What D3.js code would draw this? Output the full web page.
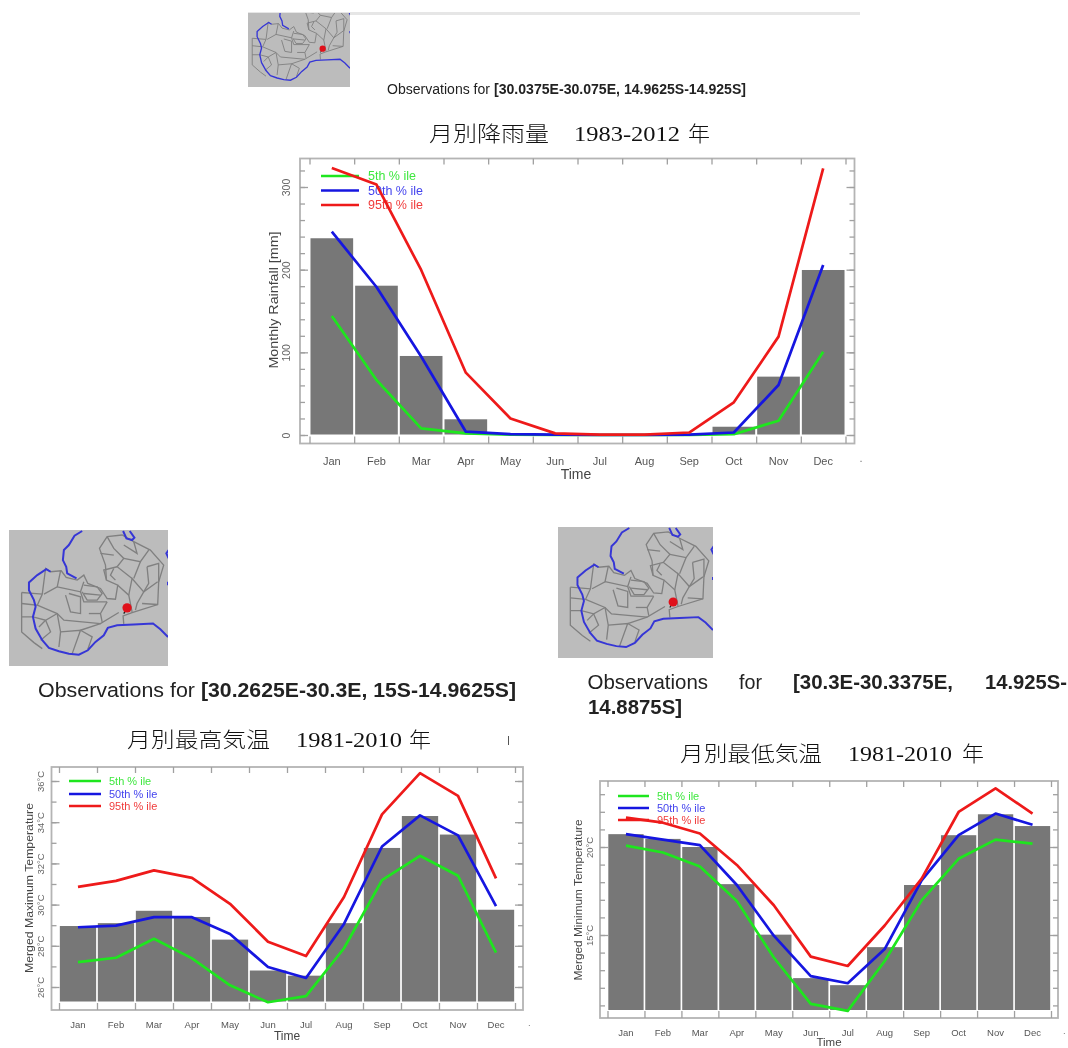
<!DOCTYPE html>
<html><head><meta charset="utf-8">
<script src="https://cdn.jsdelivr.net/npm/d3@7/dist/d3.min.js"></script>
<style>
html,body{margin:0;padding:0;background:#fff;overflow:hidden}
#c{display:block;filter:blur(0.6px)}
text{font-family:"Liberation Sans",Arial,sans-serif}
</style></head><body>
<svg id="c" width="1068" height="1048"></svg>
<script>
const months = ["Jan","Feb","Mar","Apr","May","Jun","Jul","Aug","Sep","Oct","Nov","Dec"];
const legendLabels = ["5th % ile","50th % ile","95th % ile"];

const rainBars = [238,180.6,95.6,19,0,0,0,0,0,10,70.6,199.6];
const rainP5   = [144,66.5,8,2,0.3,0,0,0,0,1,17.3,100.8];
const rainP50  = [246,179,95,4,1,0.5,0,0,0.5,3,60.5,205.6];
const rainP95  = [323,303,199.6,75.4,20,2,0.5,0.5,3,39.5,119,322.6];

const maxBars = [28.96,29.1,29.7,29.4,28.3,26.8,26.55,29.1,32.75,34.3,33.4,29.75];
const maxP5   = [27.21,27.42,28.34,27.39,26.08,25.26,25.56,27.88,31.19,32.37,31.4,27.67];
const maxP50  = [28.9,28.98,29.39,29.39,28.57,26.97,26.44,29.06,32.82,34.33,33.36,29.93];
const maxP95  = [30.86,31.15,31.66,31.3,30.04,28.2,27.5,30.37,34.38,36.38,35.28,31.27];

const minBars = [20.73,20.46,20,17.89,15.02,12.55,12.15,14.31,17.84,20.67,21.86,21.19];
const minP5   = [20.08,19.69,18.89,16.93,13.72,11.09,10.69,13.52,16.97,19.33,20.42,20.19];
const minP50  = [20.73,20.42,20.11,17.84,14.96,12.66,12.26,14.2,18.1,20.67,21.9,21.26];
const minP95  = [21.67,21.38,20.77,18.98,16.69,13.77,13.24,15.54,18.2,21.99,23.33,21.9];

const rainMajor = [0,100,200,300];
const rainMinor = [0,20,40,60,80,100,120,140,160,180,200,220,240,260,280,300,320];
const maxMajor = [26,28,30,32,34,36];
const maxMinor = [26,27,28,29,30,31,32,33,34,35,36];
const minMajor = [15,20];
const minMinor = [11,12,13,14,15,16,17,18,19,20,21,22,23];

const lineColors = ["#1ee61e","#1616e0","#ee1a1a"];
const legendText = ["#3fe83f","#4444ee","#f03c3c"];

const mapRivers = [
 [[245,18],[222,32],[205,60],[190,75],[187,105],[197,125],[200,145],[228,160]],
 [[150,140],[137,132],[110,150],[85,172],[85,195],[100,225],[105,245],[97,275],[105,310],[125,345],[145,368],[175,378],[205,385],[235,388],[262,375],[285,350],[310,330],[322,308],[350,300],[400,298],[458,295],[480,312],[503,335]],
 [[368,18],[378,40],[395,45],[402,38],[388,18]],
 [[505,75],[498,85],[505,100]],
 [[503,170],[503,180]]
];
const mapBorders = [
 [[63,202],[63,320],[100,352],[125,370]],
 [[63,202],[125,207],[135,130],[150,140],[182,137],[197,157],[230,165],[250,150],[262,175],[300,190],[320,220],[345,222],[352,180],[318,165],[315,120],[297,70],[320,35],[365,30],[400,50],[450,75],[490,120],[475,170],[472,238],[395,262],[368,272],[370,296]],
 [[125,207],[110,240],[63,235]],[[110,240],[170,265],[190,285],[300,295],[355,262]],
 [[63,275],[97,275],[135,285],[170,265]],[[135,285],[150,320],[120,345]],[[135,285],[115,305]],
 [[180,137],[170,185],[130,207]],[[170,185],[240,200],[250,170]],[[195,210],[210,260],[240,265],[240,215],[205,205]],
 [[240,200],[250,230],[320,230]],[[250,180],[290,185],[305,205],[290,225],[260,225],[245,200]],[[250,205],[300,210]],
 [[170,265],[180,320],[175,365]],[[180,320],[240,315],[215,385]],[[240,315],[300,295]],[[240,315],[275,335],[262,372]],
 [[320,230],[300,265],[305,290]],[[265,265],[300,265]],
 [[352,180],[385,210],[395,260]],[[385,210],[395,160],[430,200],[472,170]],[[430,200],[410,235],[405,255]],[[425,235],[472,238]],
 [[395,160],[350,125],[370,100],[340,70],[320,35]],[[350,125],[310,135],[318,165]],[[370,100],[420,110],[445,75]],[[420,110],[400,160]],
 [[440,125],[475,115],[475,170]],[[440,125],[445,175],[430,200]],[[300,85],[340,90]],[[370,60],[410,85],[400,50]],[[340,130],[330,150],[345,165]]
];
const mapPin = {head:[380,248], tail:[370,265]};

const svg = d3.select("#c");
const mapLine = d3.line().curve(d3.curveLinear);

function drawMap(box, view){
  const s = svg.append("svg").attr("x",box[0]).attr("y",box[1]).attr("width",box[2]).attr("height",box[3])
    .attr("viewBox",view.join(" ")).attr("preserveAspectRatio","none").style("overflow","hidden");
  s.append("rect").attr("x",view[0]).attr("y",view[1]).attr("width",view[2]).attr("height",view[3]).attr("fill","#bcbcbc");
  s.selectAll(".b").data(mapBorders).join("path").attr("class","b").attr("d",mapLine).attr("fill","none").attr("stroke","#808080").attr("stroke-width",4);
  s.selectAll(".r").data(mapRivers).join("path").attr("class","r").attr("d",mapLine).attr("fill","none").attr("stroke","#3636d6").attr("stroke-width",6);
  s.append("line").attr("x1",mapPin.head[0]).attr("y1",mapPin.head[1]).attr("x2",mapPin.tail[0]).attr("y2",mapPin.tail[1]).attr("stroke","#222").attr("stroke-width",4);
  s.append("circle").attr("cx",mapPin.head[0]).attr("cy",mapPin.head[1]).attr("r",14).attr("fill","#e0101a");
}

function titleParts(t){
  const y=t.y;
  const add=(txt,x0,x1,fam,size,w)=>svg.append("text").attr("x",x0).attr("y",y).attr("textLength",x1-x0).attr("lengthAdjust","spacingAndGlyphs")
     .style("font-family",fam).attr("font-weight",w).attr("font-size",size).attr("fill","#111").text(txt);
  add(t.cjk,t.a[0],t.a[1],'"Noto Sans CJK JP"',21,300);
  add(t.num,t.b[0],t.b[1],'"Liberation Serif"',22,400);
  add("年",t.c[0],t.c[1],'"Noto Sans CJK JP"',21,300);
}

function obs(y,size,parts){
  parts.forEach(p=>svg.append("text").attr("x",p[1]).attr("y",y).attr("textLength",p[2]-p[1]).attr("lengthAdjust","spacingAndGlyphs")
    .attr("font-size",size).attr("font-weight",p[3]?"bold":"normal").attr("fill","#222").text(p[0]));
}

function drawChart(o){
  const g=svg.append("g");
  const [fl,ft,fr,fb]=o.frame;
  const edge=d3.scaleLinear().domain([0,12]).range(o.xr);
  const x=d3.scaleBand().domain(months).range(o.xr).paddingInner(0.045).paddingOuter(0.022);
  const y=d3.scaleLinear().domain(o.yd).range(o.yr);
  const axColor="#a0a0a0";
  g.selectAll(".bar").data(months.map((m,i)=>({m,v:o.bars[i]})).filter(d=>d.v>0)).join("rect").attr("class","bar")
    .attr("x",d=>x(d.m)).attr("width",x.bandwidth()).attr("y",d=>y(d.v)).attr("height",d=>Math.max(0,o.base-y(d.v))).attr("fill","#777777");
  g.append("rect").attr("x",fl).attr("y",ft).attr("width",fr-fl).attr("height",fb-ft).attr("fill","none").attr("stroke","#b4b4b4").attr("stroke-width",1.8);
  const style=a=>{a.select(".domain").remove();a.selectAll("line").attr("stroke",axColor).attr("stroke-width",1.3);};
  g.append("g").attr("transform",`translate(0,${ft})`).call(d3.axisBottom(edge).tickValues(d3.range(13)).tickSize(6).tickFormat("")).call(style);
  g.append("g").attr("transform",`translate(0,${fb})`).call(d3.axisTop(edge).tickValues(d3.range(13)).tickSize(7).tickFormat("")).call(style);
  g.append("g").attr("transform",`translate(${fl},0)`).call(d3.axisRight(y).tickValues(o.minor).tickSize(5).tickFormat("")).call(style);
  g.append("g").attr("transform",`translate(${fr},0)`).call(d3.axisLeft(y).tickValues(o.minor).tickSize(5).tickFormat("")).call(style);
  g.append("g").attr("transform",`translate(${fl},0)`).call(d3.axisRight(y).tickValues(o.major).tickSize(8).tickFormat("")).call(style);
  g.append("g").attr("transform",`translate(${fr},0)`).call(d3.axisLeft(y).tickValues(o.major).tickSize(8).tickFormat("")).call(style);
  const yl=g.append("g").attr("transform",`translate(${fl},0)`).call(d3.axisLeft(y).tickValues(o.major).tickSize(0).tickFormat(o.fmt));
  yl.select(".domain").remove();
  yl.selectAll("text").attr("x",0).attr("dy",0).attr("text-anchor","middle").attr("dominant-baseline","central")
    .attr("transform",`translate(${o.ylx-fl},0) rotate(-90)`).attr("font-size",o.ytSize).attr("fill","#666").style("font-family",'"Liberation Sans"');
  const xl=g.append("g").attr("transform",`translate(0,${o.mly})`).call(d3.axisBottom(x).tickSize(0).tickPadding(0));
  xl.select(".domain").remove();
  xl.selectAll("text").attr("y",0).attr("dy",0).attr("dominant-baseline","central").attr("font-size",o.mSize).attr("fill","#555").style("font-family",'"Liberation Sans"');
  g.append("text").attr("x",fr+5).attr("y",o.mly+1).attr("font-size",o.mSize).attr("fill","#777").text(".");
  g.append("text").attr("x",o.tx).attr("y",o.ty).attr("text-anchor","middle").attr("dominant-baseline","central").attr("font-size",o.tSize).attr("fill","#444").text("Time");
  g.append("text").attr("transform",`translate(${o.ax},${o.ay}) rotate(-90)`).attr("text-anchor","middle").attr("dominant-baseline","central")
    .attr("textLength",o.aLen).attr("lengthAdjust","spacingAndGlyphs").attr("font-size",o.aSize).attr("fill","#444").text(o.ylabel);
  legendLabels.forEach((l,i)=>{
    g.append("line").attr("x1",o.lg[0]).attr("x2",o.lg[1]).attr("y1",o.lgy[i]).attr("y2",o.lgy[i]).attr("stroke",lineColors[i]).attr("stroke-width",2.5);
    g.append("text").attr("x",o.lg[2]).attr("y",o.lgy[i]).attr("dominant-baseline","central").attr("font-size",o.lgSize).attr("fill",legendText[i]).text(l);
  });
  const line=d3.line().x((d,i)=>x(months[i])+x.bandwidth()/2).y(d=>y(d));
  o.lines.forEach((s,i)=>g.append("path").datum(s).attr("d",line).attr("fill","none").attr("stroke",lineColors[i]).attr("stroke-width",2.7).attr("stroke-linejoin","round"));
}

svg.append("rect").attr("x",248).attr("y",12).attr("width",612).attr("height",3).attr("fill","#e6e6e6");

drawMap([248,13,102,74],[44,90,459,328]);
drawMap([9,530,159,136],[25,15,478,407]);
drawMap([558,527,155,131],[25,15,478,407]);

obs(94,13.8,[["Observations for",387,490,0],["[30.0375E-30.075E, 14.9625S-14.925S]",494,746,1]]);
obs(697,20.5,[["Observations for",38,195,0],["[30.2625E-30.3E, 15S-14.9625S]",201,516,1]]);
obs(689,20.5,[["Observations",587.5,708,0],["for",739,762,0],["[30.3E-30.3375E,",793,953,1],["14.925S-",985,1067,1]]);
obs(714,20.5,[["14.8875S]",588,682,1]]);

titleParts({y:141,cjk:"月別降雨量",a:[429,549],num:"1983-2012",b:[574,680],c:[688,710]});
titleParts({y:747,cjk:"月別最高気温",a:[127,270],num:"1981-2010",b:[296,402],c:[409,431]});
titleParts({y:761,cjk:"月別最低気温",a:[680,822],num:"1981-2010",b:[848,952],c:[962,984]});
svg.append("line").attr("x1",508.5).attr("x2",508.5).attr("y1",736).attr("y2",745).attr("stroke","#555").attr("stroke-width",1);

drawChart({frame:[300,158.5,854.5,443.5],xr:[309.5,845.5],yd:[0,300],yr:[435,187],base:434.5,
  bars:rainBars,lines:[rainP5,rainP50,rainP95],major:rainMajor,minor:rainMinor,fmt:d=>d,
  ylx:286,ytSize:10.5,mly:460.5,mSize:11,tx:576,ty:473.5,tSize:14,
  ax:274,ay:300,aLen:137,aSize:12.5,ylabel:"Monthly Rainfall [mm]",
  lg:[321,359,368],lgy:[176,190.5,205],lgSize:12.5});

drawChart({frame:[51.5,767,523,1010],xr:[59,515],yd:[26,36],yr:[987,781],base:1001.5,
  bars:maxBars,lines:[maxP5,maxP50,maxP95],major:maxMajor,minor:maxMinor,fmt:d=>d+"°C",
  ylx:40,ytSize:9.5,mly:1024.5,mSize:9.5,tx:287,ty:1035.5,tSize:12,
  ax:29,ay:888,aLen:170,aSize:11.5,ylabel:"Merged Maximum Temperature",
  lg:[69,101,109],lgy:[781,794,806],lgSize:11});

drawChart({frame:[600,781,1058,1018],xr:[607.5,1051],yd:[15,20],yr:[935,847],base:1010,
  bars:minBars,lines:[minP5,minP50,minP95],major:minMajor,minor:minMinor,fmt:d=>d+"°C",
  ylx:589,ytSize:9.5,mly:1032.5,mSize:9.5,tx:829,ty:1041.5,tSize:11.5,
  ax:578,ay:900,aLen:161,aSize:11.5,ylabel:"Merged Minimum Temperature",
  lg:[618,649,657],lgy:[796,808,820],lgSize:11});
</script>
</body></html>
